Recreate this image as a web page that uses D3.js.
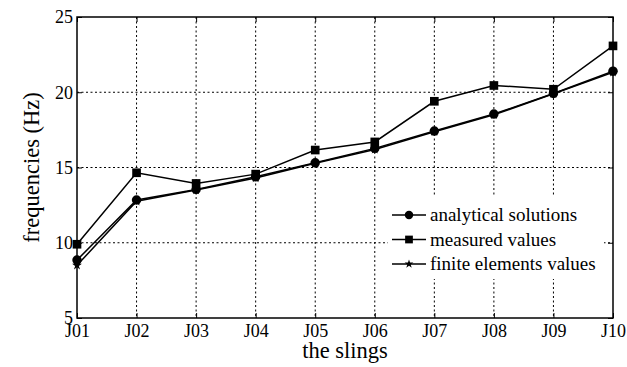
<!DOCTYPE html>
<html>
<head>
<meta charset="utf-8">
<script src="https://cdn.jsdelivr.net/npm/d3@7"></script>
<style>
  body { margin: 0; background: #fff; }
  svg text { font-family: "Liberation Serif", "Times New Roman", serif; fill: #000; }
</style>
</head>
<body>
<svg id="chart"></svg>
<script>
// data
const slings = ["J01", "J02", "J03", "J04", "J05", "J06", "J07", "J08", "J09", "J10"];
const analytical = [8.85, 12.84, 13.54, 14.38, 15.31, 16.27, 17.42, 18.55, 19.92, 21.4];
const measured = [9.9, 14.65, 13.94, 14.56, 16.16, 16.7, 19.4, 20.45, 20.2, 23.08];
const finiteElements = [8.5, 12.76, 13.5, 14.3, 15.28, 16.2, 17.38, 18.5, 19.9, 21.32];
const yTicks = [5, 10, 15, 20, 25];
const seriesNames = ["analytical solutions", "measured values", "finite elements values"];

const width = 627, height = 367;
const margin = { top: 17, right: 14, bottom: 49, left: 77 };
const serif = "'Liberation Serif', 'Times New Roman', serif";

const svg = d3.select("#chart")
    .attr("width", width)
    .attr("height", height);

const x = d3.scalePoint()
    .domain(slings)
    .range([margin.left, width - margin.right]);

const y = d3.scaleLinear()
    .domain([5, 25])
    .range([height - margin.bottom, margin.top]);

// grid
const grid = svg.append("g").attr("class", "grid");
grid.selectAll("line.v")
    .data(slings.slice(1, -1))
    .enter().append("line")
    .attr("x1", d => x(d)).attr("x2", d => x(d))
    .attr("y1", margin.top).attr("y2", height - margin.bottom)
    .style("stroke", "#000").style("stroke-width", 1)
    .style("stroke-dasharray", "2,2.5");
grid.selectAll("line.h")
    .data(yTicks.slice(1, -1))
    .enter().append("line")
    .attr("y1", d => y(d)).attr("y2", d => y(d))
    .attr("x1", margin.left).attr("x2", width - margin.right)
    .style("stroke", "#000").style("stroke-width", 1)
    .style("stroke-dasharray", "2,2.5");

// axes (ticks pointing inward, MATLAB style)
const xAxis = svg.append("g")
    .attr("transform", `translate(0,${height - margin.bottom})`)
    .call(d3.axisBottom(x).tickSizeInner(-5).tickSizeOuter(0).tickPadding(6));
const yAxis = svg.append("g")
    .attr("transform", `translate(${margin.left},0)`)
    .call(d3.axisLeft(y).tickValues(yTicks).tickSizeInner(-5).tickSizeOuter(0).tickPadding(4));
svg.append("g")
    .attr("transform", `translate(${width - margin.right},0)`)
    .call(d3.axisRight(y).tickValues(yTicks).tickSizeInner(-5).tickSizeOuter(0).tickFormat(""));
svg.append("g")
    .attr("transform", `translate(0,${margin.top})`)
    .call(d3.axisTop(x).tickSizeInner(-5).tickSizeOuter(0).tickFormat(""));

svg.selectAll(".domain").remove();
svg.selectAll(".tick line").style("stroke", "#000");
xAxis.attr("font-family", serif).attr("font-size", 18);
yAxis.attr("font-family", serif).attr("font-size", 18);
xAxis.selectAll("text").style("font-family", serif).style("font-size", "18px");
yAxis.selectAll("text").style("font-family", serif).style("font-size", "18px");

// frame
svg.append("rect")
    .attr("x", margin.left).attr("y", margin.top)
    .attr("width", width - margin.left - margin.right)
    .attr("height", height - margin.top - margin.bottom)
    .attr("fill", "none").attr("stroke", "#000").attr("stroke-width", 1.5);

// lines and markers
const line = d3.line().x((d, i) => x(slings[i])).y(d => y(d));
const series = [
    { name: seriesNames[0], values: analytical, symbol: d3.symbolCircle, size: 70 },
    { name: seriesNames[1], values: measured, symbol: d3.symbolSquare, size: 75 },
    { name: seriesNames[2], values: finiteElements, symbol: d3.symbolStar, size: 30 }
];

series.forEach(s => {
    svg.append("path")
        .datum(s.values)
        .attr("d", line)
        .attr("fill", "none")
        .attr("stroke", "#000")
        .attr("stroke-width", 1.5);
    svg.append("g").selectAll("path")
        .data(s.values)
        .enter().append("path")
        .attr("transform", (d, i) => `translate(${x(slings[i])},${y(d)})`)
        .attr("d", d3.symbol().type(s.symbol).size(s.size))
        .attr("fill", "#000");
});

// legend
const legend = svg.append("g").attr("transform", "translate(388,197)");
legend.append("rect")
    .attr("width", 216).attr("height", 82)
    .attr("fill", "#fff");
series.forEach((s, i) => {
    const ly = 18 + i * 24.5;
    legend.append("line")
        .attr("x1", 4).attr("x2", 38)
        .attr("y1", ly).attr("y2", ly)
        .attr("stroke", "#000").attr("stroke-width", 1.5);
    legend.append("path")
        .attr("transform", `translate(21,${ly})`)
        .attr("d", d3.symbol().type(s.symbol).size(s.size * 0.8))
        .attr("fill", "#000");
    legend.append("text")
        .attr("x", 42).attr("y", ly)
        .attr("dy", "0.33em")
        .style("font-family", serif)
        .style("font-size", "19px")
        .text(s.name);
});

// axis titles
svg.append("text")
    .attr("x", (margin.left + width - margin.right) / 2)
    .attr("y", 358)
    .attr("text-anchor", "middle")
    .style("font-family", serif)
    .style("font-size", "22.5px")
    .text("the slings");
svg.append("text")
    .attr("transform", `translate(39,${(margin.top + height - margin.bottom) / 2}) rotate(-90)`)
    .attr("text-anchor", "middle")
    .style("font-family", serif)
    .style("font-size", "22.5px")
    .text("frequencies (Hz)");
</script>
</body>
</html>
